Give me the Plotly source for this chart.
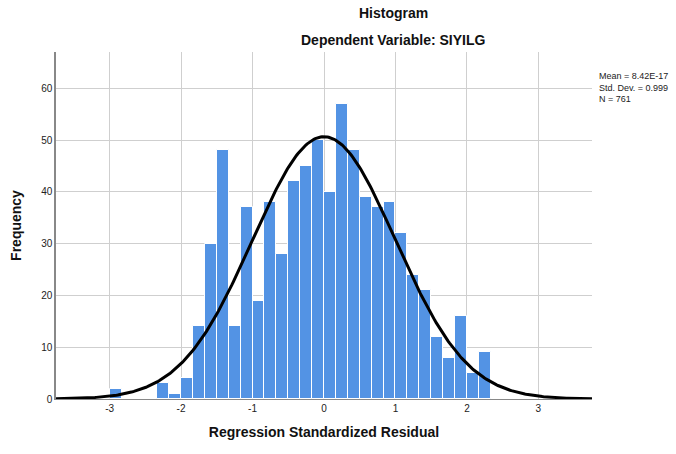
import numpy as np
import plotly.graph_objects as go

# Histogram bins (width 1/6, starting at -3)
bin_start = -3.0
bin_width = 1.0 / 6.0
counts = [2, 0, 0, 0, 3, 1, 4, 14, 30, 48, 14, 37, 19, 38, 28, 42, 45, 50, 40, 57,
          48, 39, 37, 38, 32, 24, 21, 12, 8, 16, 5, 9]

# Normal curve statistics
mean_val = 8.42e-17
std_val = 0.999
n_val = 761

x_ticks = [-3, -2, -1, 0, 1, 2, 3]
x_ticktext = ["-3", "-2", "-1", "0", "1", "2", "3"]
y_ticks = [0, 10, 20, 30, 40, 50, 60]

centers = [bin_start + bin_width * (i + 0.5) for i in range(len(counts))]

xc = np.linspace(-3.75, 3.75, 400)
yc = n_val * bin_width * np.exp(-0.5 * ((xc - mean_val) / std_val) ** 2) / (std_val * np.sqrt(2 * np.pi))

W, H = 676, 454
ML, MR, MT, MB = 56, 84, 52, 55
PW = W - ML - MR
PH = H - MT - MB


def px(xp):
    return (xp - ML) / PW


def py(yp):
    return 1 - (yp - MT) / PH


fig = go.Figure()
fig.add_trace(go.Bar(x=centers, y=counts, width=bin_width,
                     marker=dict(color="#5393E4", line=dict(color="white", width=1)),
                     hoverinfo="x+y"))
fig.add_trace(go.Scatter(x=xc, y=yc, mode="lines",
                         line=dict(color="black", width=3), hoverinfo="skip"))

fig.update_layout(
    width=W, height=H,
    margin=dict(l=ML, r=MR, t=MT, b=MB),
    paper_bgcolor="white", plot_bgcolor="white",
    showlegend=False, bargap=0,
    font=dict(family="Liberation Sans, Arial", color="#222"),
)
fig.update_xaxes(range=[-3.75, 3.75], tickvals=x_ticks, ticktext=x_ticktext,
                 showgrid=True, gridcolor="#cfcfcf", gridwidth=1, zeroline=False,
                 showline=True, linecolor="#888", linewidth=1,
                 tickfont=dict(size=10, color="#222"), ticks="", ticklen=0,
                 title=dict(text="<b>Regression Standardized Residual</b>",
                            font=dict(size=14, color="#111"), standoff=14))
fig.update_yaxes(range=[0, 67], tickvals=y_ticks,
                 showgrid=True, gridcolor="#cfcfcf", gridwidth=1, zeroline=False,
                 showline=True, linecolor="#888", linewidth=1.5,
                 tickfont=dict(size=10, color="#222"), ticks="",
                 title=dict(text="<b>Frequency</b>", font=dict(size=14, color="#111"), standoff=16))

anns = [
    dict(text="<b>Histogram</b>", x=393, y=13, size=14),
    dict(text="<b>Dependent Variable: SIYILG</b>", x=393, y=40, size=14),
]
for a in anns:
    fig.add_annotation(text=a["text"], xref="paper", yref="paper",
                       x=px(a["x"]), y=py(a["y"]),
                       showarrow=False, xanchor="center", yanchor="middle",
                       font=dict(size=a["size"], color="#111"))

stat_lines = ["Mean = 8.42E-17", "Std. Dev. = 0.999", "N = 761"]
fig.add_annotation(text="<br>".join(stat_lines), xref="paper", yref="paper",
                   x=px(597), y=py(69), align="left",
                   showarrow=False, xanchor="left", yanchor="top",
                   font=dict(size=9, color="#222"))

fig.write_html("out.html", config={"displayModeBar": False},
               post_script="document.body.style.margin='0';document.body.style.overflow='hidden';")
